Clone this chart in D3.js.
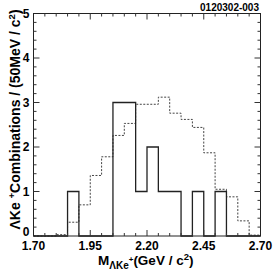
<!DOCTYPE html>
<html><head><meta charset="utf-8">
<script src="https://cdn.jsdelivr.net/npm/d3@7"></script>
<style>
body{margin:0;background:#fff;}
text{font-family:"Liberation Sans",Arial,Helvetica,sans-serif;font-weight:bold;fill:#000;}
</style></head>
<body><svg id="c" width="277" height="277"></svg>
<script>
const binLow = [1.70,1.75,1.80,1.85,1.90,1.95,2.00,2.05,2.10,2.15,2.20,2.25,2.30,2.35,2.40,2.45,2.50,2.55,2.60,2.65];
const binWidth = 0.05;
const signal = [0,0,0,1,0,0,0,3,3,1,2,1,1,0,1,0,1,0,0,0];
const background = [0,0,0.03,0.31,0.70,1.36,1.78,2.26,2.53,2.96,2.96,3.12,2.76,2.62,2.44,1.87,1.05,0.88,0.34,0.02];
const xTickLabels = ["1.70","1.95","2.20","2.45","2.70"];
const yTickLabels = ["0","1","2","3","4","5"];
const tag = "0120302-003";

const svg = d3.select("#c");
const L=33.5, R=260.5, T=13.5, B=236;
const x = d3.scaleLinear().domain([1.70,2.70]).range([L,R]);
const y = d3.scaleLinear().domain([0,5]).range([B,T]);

function histPts(vals){
  const pts = vals.map((v,i)=>[binLow[i],v]);
  pts.push([binLow[binLow.length-1]+binWidth, vals[vals.length-1]]);
  return pts;
}
const line = d3.line().x(d=>x(d[0])).y(d=>y(d[1])).curve(d3.curveStepAfter);

// background (dotted)
svg.append("path").attr("d", line(histPts(background)))
  .attr("fill","none").attr("stroke","#444").attr("stroke-width",1)
  .attr("stroke-dasharray","2,1.5");
// signal (solid)
svg.append("path").attr("d", line(histPts(signal)))
  .attr("fill","none").attr("stroke","#222").attr("stroke-width",1.3);

// frame
svg.append("rect").attr("x",L).attr("y",T).attr("width",R-L).attr("height",B-T)
  .attr("fill","none").attr("stroke","#222").attr("stroke-width",1);

// x ticks
const xMinor = binLow.slice(1);
const xMajor = xTickLabels.map(Number);
const gx = svg.append("g").attr("stroke","#333").attr("stroke-width",1);
xMinor.forEach(v=>{
  const isMaj = xMajor.some(m=>Math.abs(m-v)<1e-6);
  const len = isMaj?6:3;
  gx.append("line").attr("x1",x(v)).attr("x2",x(v)).attr("y1",B).attr("y2",B-len);
  gx.append("line").attr("x1",x(v)).attr("x2",x(v)).attr("y1",T).attr("y2",T+len);
});
// y ticks
const gy = svg.append("g").attr("stroke","#333").attr("stroke-width",1);
for(let k=1;k<25;k++){
  const v=k*0.2; const isMaj = k%5===0; const len=isMaj?6:3;
  gy.append("line").attr("x1",L).attr("x2",L+len).attr("y1",y(v)).attr("y2",y(v));
  gy.append("line").attr("x1",R).attr("x2",R-len).attr("y1",y(v)).attr("y2",y(v));
}

// x labels
svg.selectAll(".xl").data(xTickLabels).enter().append("text")
  .attr("x",d=>x(+d)).attr("y",249.7).attr("text-anchor","middle")
  .attr("font-size",12).text(d=>d);
// y labels
svg.selectAll(".yl").data(yTickLabels).enter().append("text")
  .attr("x",29.5).attr("y",d=>y(+d)+ (d==="0"?-0.3:4.3)).attr("text-anchor","end")
  .attr("font-size",12).text(d=>d);

// tag
svg.append("text").attr("x",259).attr("y",10.5).attr("text-anchor","end")
  .attr("font-size",10).text(tag);

// x title
const xt = svg.append("text").attr("x",98).attr("y",265).attr("font-size",13.5);
xt.append("tspan").text("M");
xt.append("tspan").attr("dy",3.5).attr("font-size",10).text("ΛKe");
xt.append("tspan").attr("dy",-7).attr("font-size",8).text("+");
xt.append("tspan").attr("dy",3.5).text("(GeV / c");
xt.append("tspan").attr("dy",-5).attr("font-size",9.5).text("2");
xt.append("tspan").attr("dy",5).text(")");

// y title
const yt = svg.append("text").attr("transform","translate(19.5,119.5) rotate(-90)")
  .attr("text-anchor","middle").attr("font-size",14);
yt.append("tspan").text("ΛKe ");
yt.append("tspan").attr("dy",-5).attr("font-size",9.5).text("+");
yt.append("tspan").attr("dy",5).text("Combinations / (50MeV / c");
yt.append("tspan").attr("dy",-5).attr("font-size",9.5).text("2");
yt.append("tspan").attr("dy",5).text(")");
</script></body></html>
